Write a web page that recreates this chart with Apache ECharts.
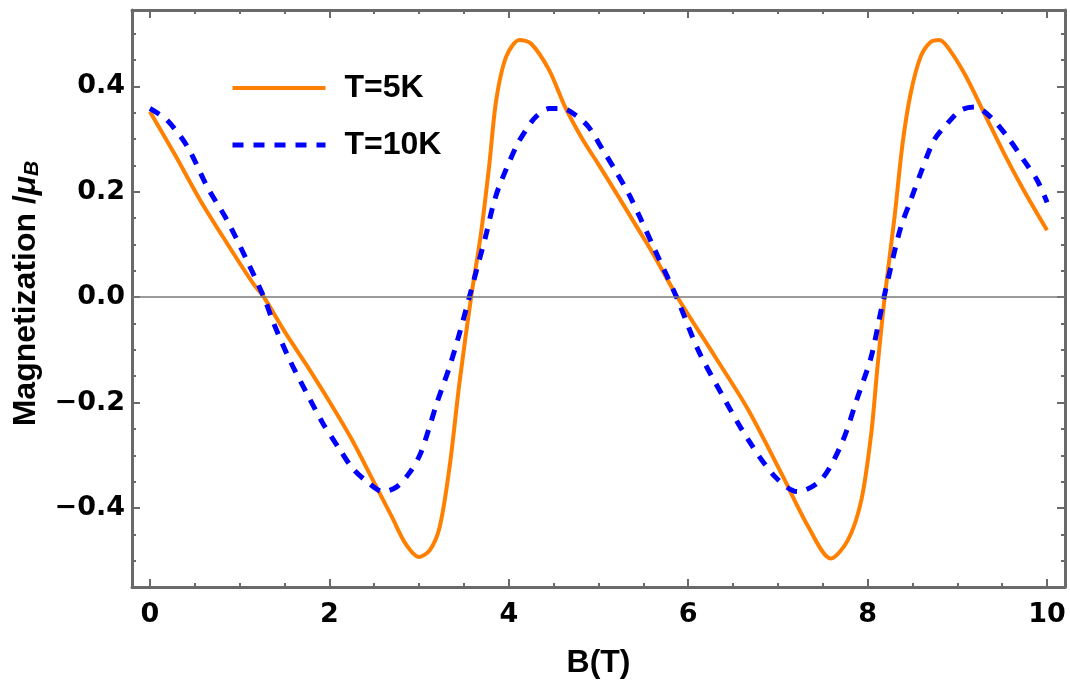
<!DOCTYPE html>
<html>
<head>
<meta charset="utf-8">
<title>Magnetization vs B</title>
<script src="https://cdn.jsdelivr.net/npm/echarts@6/dist/echarts.min.js"></script>
<style>
  html, body { margin: 0; padding: 0; background: #fff; }
  #chart { width: 1070px; height: 687px; }
</style>
</head>
<body>
<div id="chart"></div>
<script>
// B field (T) and magnetization (mu_B)
const b5K = [0.0, 0.27, 0.56, 0.86, 1.15, 1.27, 1.5, 1.75, 2.0, 2.25, 2.5, 2.7, 2.85, 3.0, 3.12, 3.23, 3.34, 3.45, 3.58,
  3.69, 3.78, 3.86, 3.97, 4.12, 4.25, 4.45, 4.63, 4.82, 5.0, 5.2, 5.4, 5.6, 5.88, 6.3, 6.67, 7.04, 7.34,
  7.59, 7.78, 7.93, 8.04, 8.11, 8.19, 8.3, 8.39, 8.48, 8.59, 8.7, 8.8, 8.89, 9.08, 9.3, 9.52, 9.74, 10.0];
const m5K = [0.352, 0.273, 0.184, 0.102, 0.026, 0.0, -0.065, -0.13, -0.198, -0.27, -0.352, -0.418, -0.468, -0.493, -0.48,
  -0.436, -0.322, -0.163, 0.0, 0.121, 0.247, 0.374, 0.456, 0.488, 0.481, 0.431, 0.36, 0.3, 0.252, 0.197, 0.141,
  0.085, 0.0, -0.113, -0.214, -0.335, -0.436, -0.496, -0.461, -0.385, -0.259, -0.132, 0.0, 0.152, 0.292,
  0.387, 0.456, 0.484, 0.488, 0.475, 0.424, 0.349, 0.273, 0.203, 0.127];

const b10K = [0.0, 0.19, 0.42, 0.64, 0.86, 1.08, 1.27, 1.38, 1.56, 1.75, 1.93, 2.12, 2.26, 2.42, 2.6, 2.75, 2.89, 3.02,
  3.2, 3.34, 3.45, 3.56, 3.67, 3.75, 3.82, 3.89, 4.08, 4.19, 4.3, 4.45, 4.6, 4.75, 4.89, 5.04, 5.19, 5.34, 5.48,
  5.63, 5.87, 6.11, 6.37, 6.67, 6.97, 7.22, 7.48, 7.71, 7.89, 8.04, 8.15, 8.26, 8.37, 8.48, 8.59, 8.74, 8.89, 9.04,
  9.19, 9.37, 9.56, 9.74, 9.89, 10.0];
const m10K = [0.358, 0.336, 0.285, 0.209, 0.146, 0.07, 0.0, -0.05, -0.12, -0.183, -0.24, -0.29, -0.325, -0.35,
  -0.369, -0.36, -0.334, -0.295, -0.2, -0.132, -0.069, 0.0, 0.07, 0.121, 0.171, 0.209, 0.285, 0.317, 0.342, 0.358,
  0.358, 0.345, 0.323, 0.282, 0.24, 0.195, 0.145, 0.089, 0.0, -0.1, -0.183, -0.271, -0.341, -0.369, -0.347, -0.278,
  -0.189, -0.113, -0.025, 0.058, 0.133, 0.184, 0.235, 0.298, 0.33, 0.355, 0.361, 0.342, 0.304, 0.26, 0.222, 0.18];

const seriesNames = ['T=5K', 'T=10K'];

// ticks
const xMajor = [0, 2, 4, 6, 8, 10];
const xMinor = [0.5, 1, 1.5, 2.5, 3, 3.5, 4.5, 5, 5.5, 6.5, 7, 7.5, 8.5, 9, 9.5];
const yMajor = [-0.4, -0.2, 0, 0.2, 0.4];
const yMinor = [-0.5, -0.45, -0.35, -0.3, -0.25, -0.15, -0.1, -0.05, 0.05, 0.1, 0.15, 0.25, 0.3, 0.35, 0.45, 0.5];

const frame = '#6a6a6a';
const orange = '#ff8000';
const blue = '#0000ff';
const font = "'Liberation Sans', Arial, sans-serif";
const tickFont = "'DejaVu Sans', sans-serif";

const pairs = (xs, ys) => xs.map((x, i) => [x, ys[i]]);

function tickAxis(position, values, len, withLine) {
  return {
    type: 'value',
    position: position,
    axisLine: { show: withLine, onZero: false, lineStyle: { color: frame, width: 3 } },
    axisTick: { show: true, inside: true, length: len, customValues: values, lineStyle: { color: frame, width: 2 } },
    axisLabel: { show: false },
    splitLine: { show: false }
  };
}

const xRange = { min: -0.2, max: 10.2 };
const yRange = { min: -0.55, max: 0.545 };

const chart = echarts.init(document.getElementById('chart'));
chart.setOption({
  animation: false,
  backgroundColor: '#fff',
  grid: { left: 132, right: 5, top: 10, bottom: 100, outerBoundsMode: 'none' },
  legend: {
    orient: 'vertical',
    left: 225,
    top: 67,
    itemWidth: 93,
    itemHeight: 20,
    itemGap: 25,
    itemStyle: { opacity: 0 },
    data: [
      { name: seriesNames[0], lineStyle: { color: orange, width: 4, type: 'solid' } },
      { name: seriesNames[1], lineStyle: { color: blue, width: 5, type: [11, 10] } }
    ],
    textStyle: { fontFamily: font, fontSize: 32, fontWeight: 'bold', color: '#000', padding: [0, 0, 0, 14] }
  },
  xAxis: [
    Object.assign({
      type: 'value',
      position: 'bottom',
      name: 'B(T)',
      nameLocation: 'middle',
      nameGap: 60,
      nameTextStyle: { fontFamily: font, fontSize: 32, fontWeight: 'bold', color: '#000' },
      axisLine: { show: true, onZero: false, lineStyle: { color: frame, width: 3 } },
      axisTick: { show: true, inside: true, length: 8, customValues: xMajor, lineStyle: { color: frame, width: 2 } },
      axisLabel: { customValues: xMajor, fontFamily: tickFont, fontSize: 27, fontWeight: 'bold', color: '#000', margin: 14 },
      splitLine: { show: false }
    }, xRange),
    Object.assign(tickAxis('bottom', xMinor, 4, false), xRange),
    Object.assign(tickAxis('top', xMajor, 8, true), xRange),
    Object.assign(tickAxis('top', xMinor, 4, false), xRange)
  ],
  yAxis: [
    Object.assign({
      type: 'value',
      position: 'left',
      name: '{t|Magnetization /}{m|μ}{s|B}',
      nameLocation: 'middle',
      nameGap: 89,
      nameTextStyle: {
        color: '#000',
        padding: [0, 0, 0, 10],
        rich: {
          t: { fontFamily: font, fontSize: 32, fontWeight: 'bold', color: '#000', lineHeight: 34 },
          m: { fontFamily: font, fontSize: 32, fontWeight: 'bold', fontStyle: 'italic', color: '#000', lineHeight: 34 },
          s: { fontFamily: font, fontSize: 21, fontWeight: 'bold', fontStyle: 'italic', color: '#000', lineHeight: 28, verticalAlign: 'bottom' }
        }
      },
      axisLine: { show: true, onZero: false, lineStyle: { color: frame, width: 3 } },
      axisTick: { show: true, inside: true, length: 8, customValues: yMajor, lineStyle: { color: frame, width: 2 } },
      axisLabel: {
        customValues: yMajor,
        fontFamily: tickFont, fontSize: 27, fontWeight: 'bold', color: '#000', margin: 7,
        formatter: v => (v < 0 ? '\u2212' : '') + Math.abs(v).toFixed(1)
      },
      splitLine: { show: false }
    }, yRange),
    Object.assign(tickAxis('left', yMinor, 4, false), yRange),
    Object.assign(tickAxis('right', yMajor, 8, true), yRange),
    Object.assign(tickAxis('right', yMinor, 4, false), yRange)
  ],
  series: [
    {
      name: seriesNames[0],
      type: 'line',
      data: pairs(b5K, m5K),
      symbol: 'none',
      smooth: 0.3,
      lineStyle: { color: orange, width: 4 },
      itemStyle: { color: orange },
      markLine: {
        silent: true,
        symbol: 'none',
        label: { show: false },
        lineStyle: { color: '#7a7a7a', width: 1.5, type: 'solid' },
        data: [{ yAxis: 0 }]
      },
      z: 2
    },
    {
      name: seriesNames[1],
      type: 'line',
      data: pairs(b10K, m10K),
      symbol: 'none',
      smooth: 0.3,
      lineStyle: { color: blue, width: 5, type: [11, 10] },
      itemStyle: { color: blue },
      z: 3
    }
  ]
});
</script>
</body>
</html>
